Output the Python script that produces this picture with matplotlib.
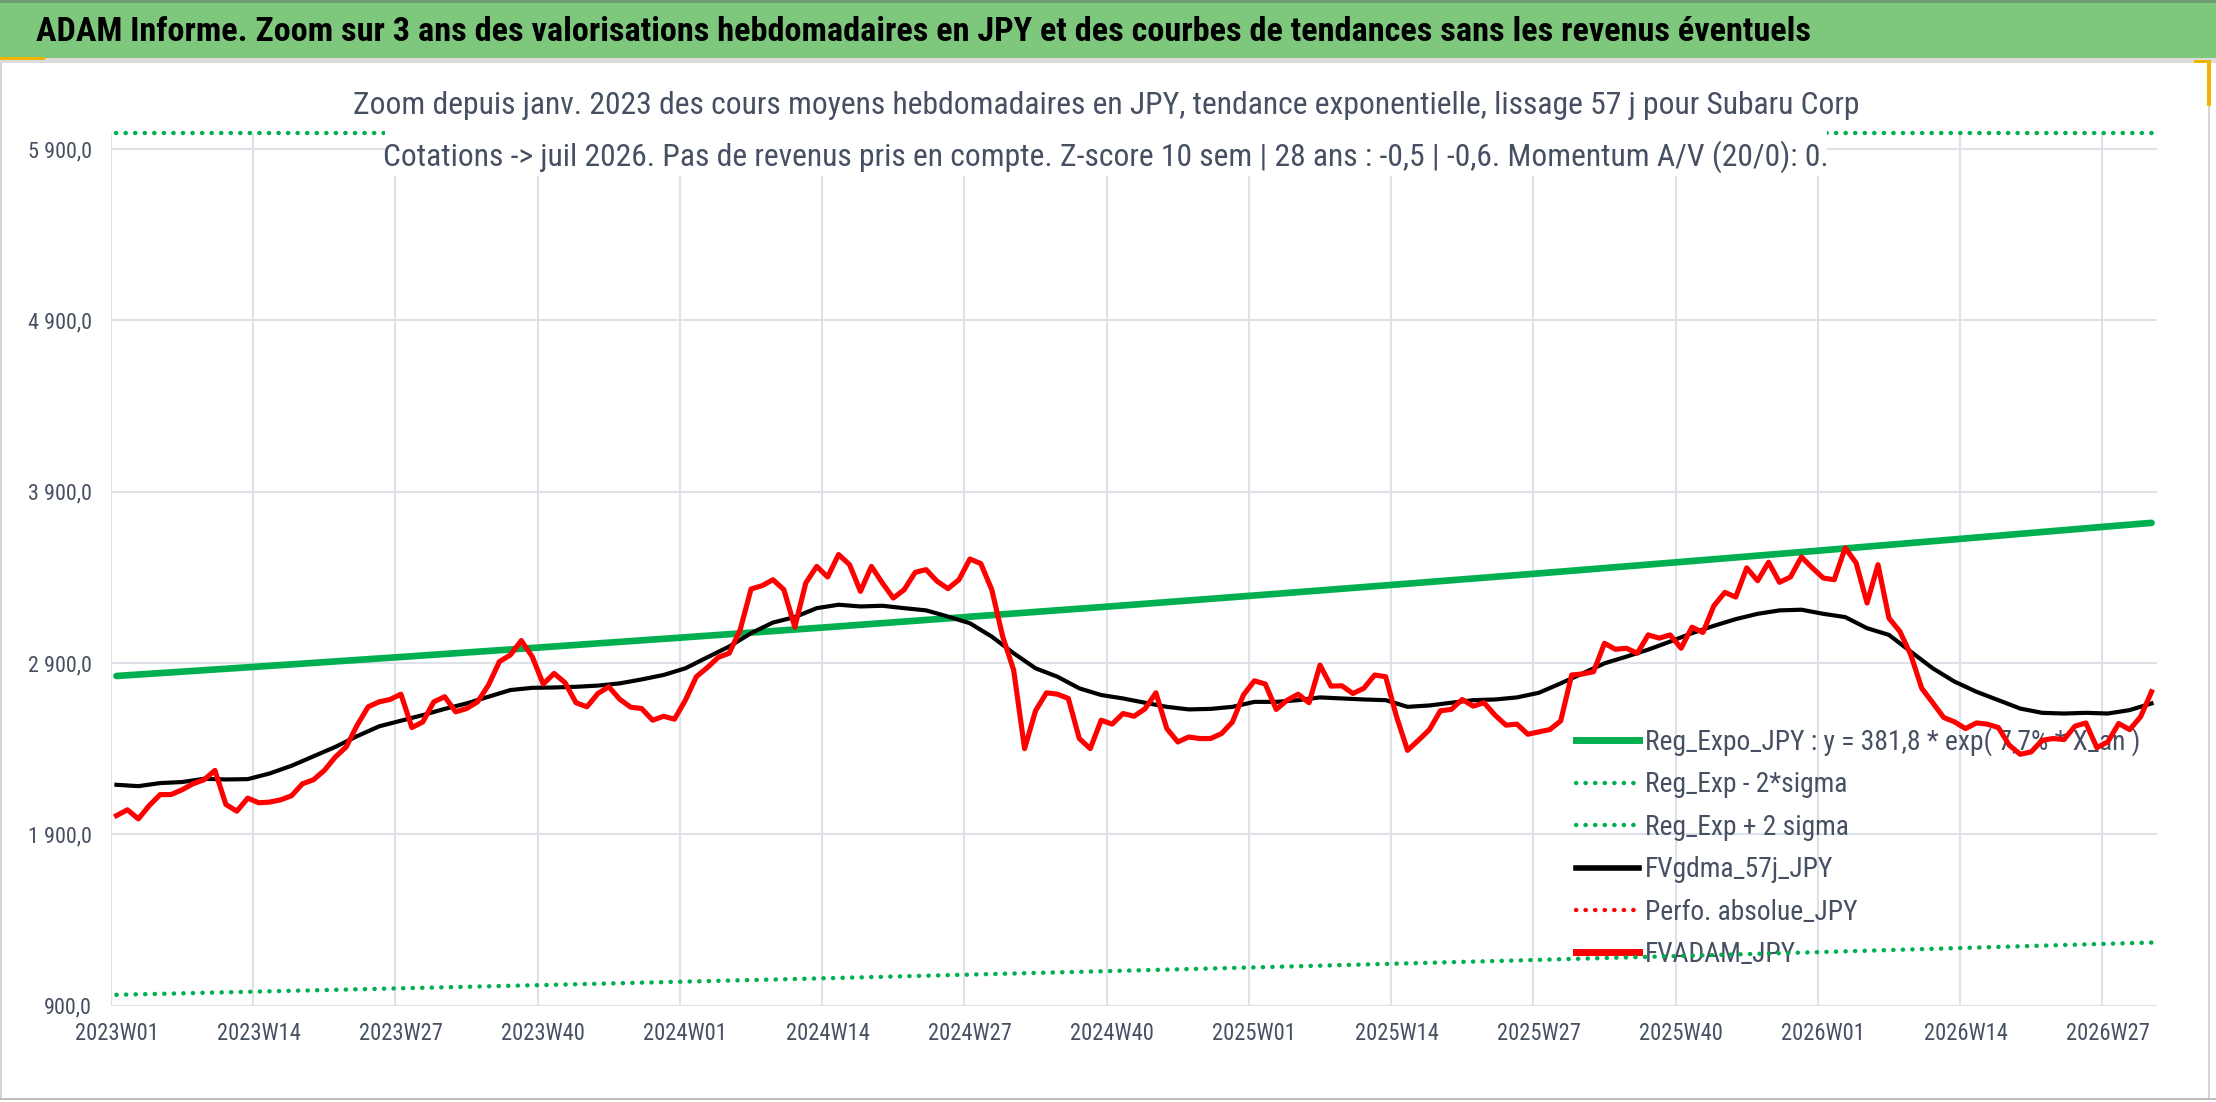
import numpy as np
import matplotlib
matplotlib.use("Agg")
import matplotlib.pyplot as plt
from matplotlib import font_manager
from matplotlib import patheffects
from matplotlib.lines import Line2D
from matplotlib.patches import Rectangle

# semaines ISO de l'axe des categories
years_weeks = [(2023, 52), (2024, 52), (2025, 52), (2026, 31)]
weeks = [f"{y}W{w:02d}" for y, n in years_weeks for w in range(1, n + 1)]

# FVADAM_JPY (cours moyen hebdo)
fvadam_jpy = [
    2009, 2043, 1990, 2068, 2132, 2132, 2160, 2195, 2218, 2273,
    2074, 2035, 2111, 2084, 2088, 2101, 2125, 2195, 2218, 2273,
    2351, 2410, 2537, 2644, 2673, 2687, 2718, 2523, 2556, 2673,
    2703, 2615, 2634, 2673, 2771, 2908, 2947, 3031, 2937, 2777,
    2839, 2785, 2668, 2644, 2722, 2761, 2688, 2642, 2634, 2566,
    2589, 2572, 2683, 2820, 2873, 2933, 2957, 3093, 3332, 3351,
    3386, 3328, 3109, 3367, 3464, 3402, 3533, 3474, 3318, 3464,
    3367, 3279, 3328, 3429, 3445, 3377, 3334, 3386, 3507, 3480,
    3328, 3054, 2859, 2400, 2621, 2726, 2718, 2693, 2459, 2400,
    2566, 2543, 2605, 2589, 2632, 2726, 2517, 2439, 2468, 2459,
    2459, 2488, 2556, 2713, 2796, 2777, 2629, 2683, 2718, 2668,
    2888, 2765, 2767, 2722, 2752, 2830, 2820, 2586, 2390, 2449,
    2511, 2621, 2629, 2687, 2648, 2668, 2595, 2537, 2543, 2484,
    2498, 2511, 2562, 2830, 2836, 2849, 3015, 2980, 2986, 2957,
    3064, 3045, 3064, 2986, 3109, 3078, 3234, 3312, 3285, 3455,
    3380, 3488, 3371, 3402, 3519, 3455, 3396, 3386, 3572, 3484,
    3250, 3474, 3162, 3084, 2947, 2752, 2668, 2582, 2556, 2517,
    2550, 2543, 2523, 2420, 2367, 2381, 2449, 2459, 2453, 2531,
    2550, 2406, 2439, 2547, 2511, 2586, 2732,
]

# FVgdma_57j_JPY, lu une semaine sur deux
gdma_idx = list(range(0, 187, 2))
fvgdma_57j = [
    2189, 2181, 2199, 2205, 2224, 2220, 2222, 2255, 2300, 2355,
    2410, 2473, 2530, 2563, 2596, 2632, 2664, 2703, 2742, 2755,
    2757, 2761, 2768, 2781, 2804, 2830, 2869, 2933, 2996, 3074,
    3136, 3168, 3220, 3240, 3230, 3234, 3220, 3207, 3171, 3132,
    3054, 2957, 2869, 2820, 2752, 2713, 2693, 2668, 2644, 2629,
    2632, 2644, 2673, 2673, 2683, 2699, 2693, 2687, 2683, 2644,
    2652, 2668, 2683, 2687, 2699, 2726, 2781, 2839, 2898, 2937,
    2978, 3025, 3074, 3117, 3156, 3187, 3207, 3211, 3187, 3168,
    3103, 3064, 2966, 2869, 2791, 2732, 2683, 2634, 2609, 2605,
    2609, 2605, 2625, 2664,
]

# regression expo et bandes +/- 2 sigma, lues aux graduations
reg_idx = [0, 13, 26, 39, 52, 65, 78, 91, 104, 117, 130, 143, 156, 169, 182, 186]
reg_expo = [2824, 2879, 2935, 2992, 3050, 3109, 3170, 3231,
            3294, 3358, 3423, 3490, 3558, 3627, 3697, 3718]
reg_minus_2s = [963, 982, 1001, 1020, 1040, 1060, 1081, 1102,
                1123, 1145, 1167, 1190, 1213, 1237, 1261, 1268]
reg_plus_2s = [8280, 8440, 8610, 8770, 8940, 9120, 9300, 9480,
               9660, 9850, 10040, 10230, 10430, 10640, 10850, 10900]

y_ticks = [900, 1900, 2900, 3900, 4900, 5900]
y_min, y_max = 900, 5992

title = ("ADAM Informe. Zoom sur 3 ans des valorisations hebdomadaires en JPY "
         "et des courbes de tendances sans les revenus éventuels")
sub1 = ("Zoom depuis janv. 2023 des cours moyens hebdomadaires en JPY, "
        "tendance exponentielle, lissage 57 j pour Subaru Corp")
sub2 = ("Cotations -> juil 2026. Pas de revenus pris en compte. Z-score 10 sem | "
        "28 ans : -0,5 | -0,6. Momentum A/V (20/0): 0.")
legend_labels = ["Reg_Expo_JPY : y = 381,8 * exp( 7,7% * X_an )",
                 "Reg_Exp - 2*sigma", "Reg_Exp + 2 sigma", "FVgdma_57j_JPY",
                 "Perfo. absolue_JPY", "FVADAM_JPY"]

# police etroite si dispo (rendu proche de Calibri)
ttf = font_manager.fontManager.ttflist
installed = sorted({f.name for f in ttf})


def weight_of(f):
    w = f.weight
    if isinstance(w, str):
        w = font_manager.weight_dict.get(w, 400)
    return w


def has_bold(name):
    return any(f.name == name and weight_of(f) >= 600 for f in ttf)


prefs = ["Liberation Sans Narrow", "Roboto Condensed", "Open Sans Condensed"]
narrow = [n for n in prefs if n in installed]
narrow += [n for n in installed if ("Narrow" in n or "Condensed" in n) and n not in narrow]
FONT = narrow[0] if narrow else ("Lato" if "Lato" in installed else "DejaVu Sans")
bold_narrow = [n for n in narrow if has_bold(n)]
TITLE_FONT = bold_narrow[0] if bold_narrow else FONT
plt.rcParams["font.family"] = [FONT, "DejaVu Sans"]

GREEN = "#00b050"
RED = "#ff0000"
TXT = "#465062"
GRID = "#dde1e8"

W, H = 2216, 1102
fig = plt.figure(figsize=(W / 100, H / 100), dpi=100)
fig.patch.set_facecolor("white")
renderer = fig.canvas.get_renderer()


def fx(x):
    return x / W


def fy(y):
    return 1 - y / H


def size_for(s, width_px, **kw):
    t = fig.text(0, 0, s, fontsize=20, **kw)
    w = t.get_window_extent(renderer).width
    t.remove()
    return 20 * width_px / w


def band(x0, y0, x1, y1, color, z=1):
    # rectangle en pixels (origine en haut a gauche)
    fig.add_artist(Rectangle((fx(x0), fy(y1)), (x1 - x0) / W, (y1 - y0) / H,
                             transform=fig.transFigure, fc=color, ec="none", zorder=z))


# bandeau vert du titre et bords
band(0, 0, W, 3, "#6f9d6f")
band(0, 3, W, 58, "#7ec87e")
band(0, 58, W, 63, "#dcdcdc")
band(0, 63, 2, 1099, "#d4d4d4")
band(2208, 63, 2210, 1099, "#d4d4d4")
band(0, 1098, W, 1100, "#bdbdbd")
band(2207, 60, 2211, 106, "#f0b400")
band(2194, 60, 2211, 63, "#f0b400")
band(0, 57, 45, 60, "#f0b400")

tkw = dict(fontweight="bold", family=[TITLE_FONT, "DejaVu Sans"])
t_title = fig.text(fx(36), fy(32), title, fontsize=size_for(title, 1768, **tkw),
                   color="black", ha="left", va="center", **tkw)
if not has_bold(TITLE_FONT):
    # pas de graisse grasse pour cette police : on epaissit le trait
    t_title.set_path_effects([patheffects.withStroke(linewidth=1.3, foreground="black")])

ax = fig.add_axes([fx(111), fy(1005.6), 2046 / W, (1005.6 - 133.3) / H])
ax.set_xlim(-0.5, 186.5)
ax.set_ylim(y_min, y_max)
for s in ax.spines.values():
    s.set_visible(False)
ax.set_axisbelow(True)

ax.set_xticks(range(0, 187, 13))
ax.set_xticklabels(weeks[::13])
ax.set_xticks(np.arange(-0.5, 187, 13), minor=True)
ax.set_yticks(y_ticks)
ax.set_yticklabels([f"{v:,.1f}".replace(",", " ").replace(".", ",") for v in y_ticks])
ax.xaxis.grid(True, which="minor", color=GRID, lw=1.5)
ax.yaxis.grid(True, which="major", color=GRID, lw=1.5)
xs = size_for("2023W01", 84)
ys = size_for("5 900,0", 64)
ax.tick_params(axis="x", which="both", length=0, labelsize=xs, labelcolor=TXT, pad=12)
ax.tick_params(axis="y", which="both", length=0, labelsize=ys, labelcolor=TXT, pad=14)

dots = (0, (0.05, 2.1))
ax.plot(reg_idx, reg_expo, color=GREEN, lw=4.8, solid_capstyle="round", zorder=3)
ax.plot(reg_idx, reg_minus_2s, color=GREEN, lw=3.2, ls=dots,
        dash_capstyle="round", zorder=3)
ax.plot(reg_idx, np.minimum(reg_plus_2s, y_max), color=GREEN, lw=3.2, ls=dots,
        dash_capstyle="round", zorder=3, clip_on=False)
ax.plot(gdma_idx, fvgdma_57j, color="black", lw=3.0, solid_joinstyle="round", zorder=4)
ax.plot(range(len(fvadam_jpy)), fvadam_jpy, color=RED, lw=3.7,
        solid_joinstyle="round", zorder=5)

handles = [
    Line2D([], [], color=GREEN, lw=5.0),
    Line2D([], [], color=GREEN, lw=3.2, ls=dots, dash_capstyle="round"),
    Line2D([], [], color=GREEN, lw=3.2, ls=dots, dash_capstyle="round"),
    Line2D([], [], color="black", lw=4.0),
    Line2D([], [], color=RED, lw=3.2, ls=dots, dash_capstyle="round"),
    Line2D([], [], color=RED, lw=5.0),
]
lfs = size_for(legend_labels[0], 496)
lpx = lfs * 100 / 72
top, spacing = 720.0, 0.5
for _ in range(3):
    leg = ax.legend(handles, legend_labels, loc="upper left",
                    bbox_to_anchor=(fx(1576), fy(top)), bbox_transform=fig.transFigure,
                    frameon=False, fontsize=lfs, labelcolor=TXT,
                    handlelength=63 / lpx, handletextpad=6 / lpx,
                    borderpad=0, borderaxespad=0, labelspacing=spacing)
    leg.set_zorder(2.5)
    fig.canvas.draw()
    ext = [t.get_window_extent(renderer) for t in leg.get_texts()]
    c0 = H - (ext[0].y0 + ext[0].y1) / 2
    c1 = H - (ext[1].y0 + ext[1].y1) / 2
    spacing += (43.3 - (c1 - c0)) / lpx
    top += 741.7 - c0

# sous-titre sur deux lignes, avec fond blanc qui masque le haut du graphique
sfs = size_for(sub2, 1449)
fig.text(0.499, fy(106), sub1, fontsize=sfs, color=TXT, ha="center", va="center", zorder=4)
t2 = fig.text(0.499, fy(157), sub2, fontsize=sfs, color=TXT, ha="center", va="center", zorder=4)
e2 = t2.get_window_extent(renderer)
band(e2.x0 + 2, 124, e2.x1 - 2, H - e2.y0 + 3, "white", z=2)

fig.savefig("out.png", dpi=100, facecolor=fig.get_facecolor())
